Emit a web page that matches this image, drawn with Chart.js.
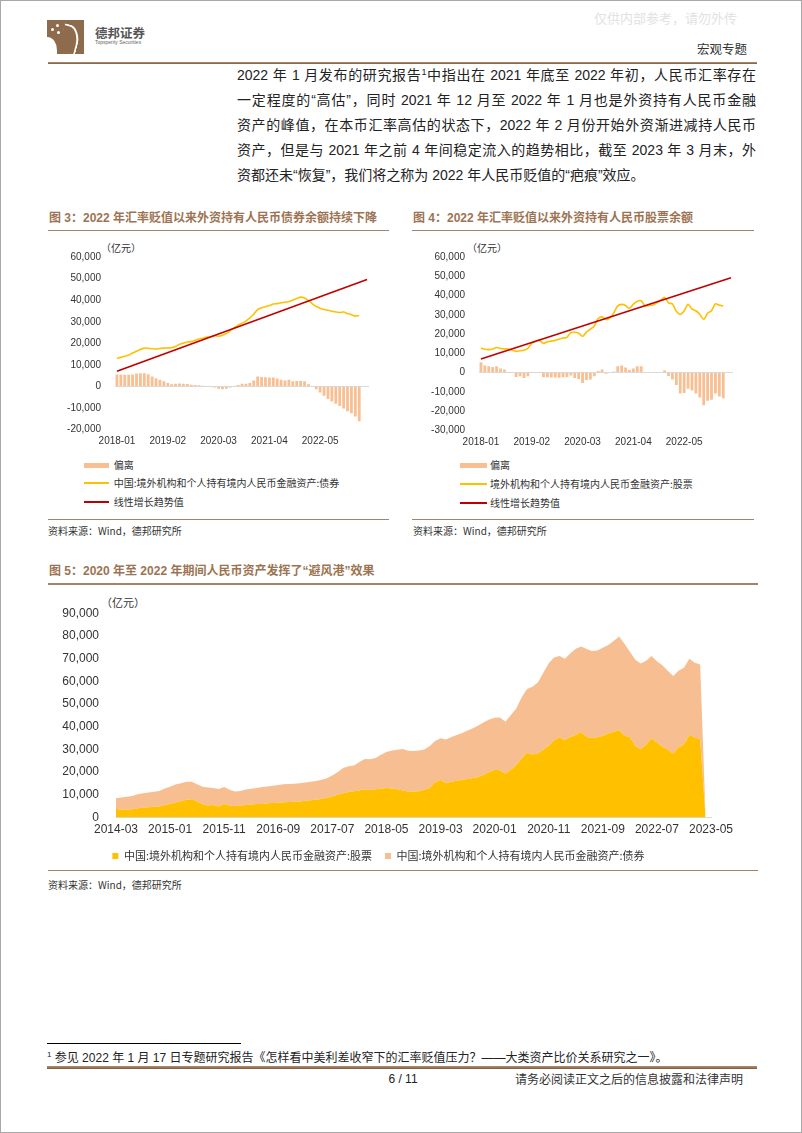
<!DOCTYPE html>
<html lang="zh-CN">
<head>
<meta charset="utf-8">
<title>宏观专题 6 / 11</title>
<script src="https://cdn.jsdelivr.net/npm/chart.js@4.4.1/dist/chart.umd.min.js"></script>
<style>
  html, body { margin: 0; padding: 0; background: #fff; }
  #page {
    position: relative; width: 802px; height: 1133px; box-sizing: border-box;
    border: 1px solid #a8a8a8; overflow: hidden; background: #fff; color: #222;
    font-family: "Liberation Sans", "Noto Sans CJK SC", sans-serif;
  }
  .t { position: absolute; white-space: nowrap; line-height: 20px; }
  .cjk { font-family: "Noto Sans CJK SC", sans-serif; }
  .para { position: absolute; left: 236px; width: 519px; font-size: 14px; line-height: 20px;
          text-align: justify; text-align-last: justify; white-space: nowrap; }
  .para.last { text-align-last: left; }
  .para sup { font-size: 9px; line-height: 0; vertical-align: 5px; }
  .ftitle { font-size: 12px; font-weight: bold; color: #9c7453; }
  .rule { position: absolute; height: 1.5px; background: #a3836a; }
  .src { font-size: 10px; color: #333; }
  .unit { font-size: 10px; color: #333; }
  .lg { font-size: 10px; color: #333; }
  .sw { position: absolute; }
  canvas { position: absolute; }
  #logo { position: absolute; left: 46px; top: 19px; width: 37px; height: 34px; background: #8e6b4d; overflow: hidden; }
  #logo .cut { position: absolute; left: -6px; top: 17px; width: 16px; height: 22px; background: #fff; border-radius: 0 60% 0 0; }
  #logo .dog { position: absolute; left: 14px; top: 5px; width: 16px; height: 26px; border: 2.5px solid #fff;
               border-left: none; border-bottom: none; border-radius: 0 70% 0 0; transform: rotate(15deg); }
  #logo .dot { position: absolute; width: 3px; height: 3px; background: #fff; border-radius: 50%; }
</style>
</head>
<body>
<div id="page">

  <!-- header -->
  <div id="logo">
    <div class="cut"></div><div class="dog"></div>
    <div class="dot" style="left:4px;top:8px"></div>
    <div class="dot" style="left:9px;top:4px"></div>
    <div class="dot" style="left:10px;top:11px"></div>
  </div>
  <div class="t cjk" style="left:94px;top:22px;font-size:12.5px;font-weight:bold;color:#555;">德邦证券</div>
  <div class="t" style="left:94px;top:38px;font-size:5px;line-height:6px;color:#666;">Topsperity Securities</div>
  <div class="t cjk" style="left:593px;top:7px;font-size:13px;color:#e2e2e2;">仅供内部参考，请勿外传</div>
  <div class="t cjk" style="left:696px;top:38px;font-size:12.5px;color:#333;">宏观专题</div>
  <div class="rule" style="left:47px;top:60.5px;width:709px;height:2.5px;background:linear-gradient(#b39276,#7d5b40);"></div>

  <!-- body text -->
  <div class="para" style="top:64px;">2022 年 1 月发布的研究报告<sup>1</sup>中指出在 2021 年底至 2022 年初，人民币汇率存在</div>
  <div class="para" style="top:89px;">一定程度的“高估”，同时 2021 年 12 月至 2022 年 1 月也是外资持有人民币金融</div>
  <div class="para" style="top:114px;">资产的峰值，在本币汇率高估的状态下，2022 年 2 月份开始外资渐进减持人民币</div>
  <div class="para" style="top:139px;">资产，但是与 2021 年之前 4 年间稳定流入的趋势相比，截至 2023 年 3 月末，外</div>
  <div class="para last" style="top:164px;">资都还未“恢复”，我们将之称为 2022 年人民币贬值的“疤痕”效应。</div>

  <!-- figure 3 -->
  <div class="t ftitle" style="left:48px;top:207px;">图 3：2022 年汇率贬值以来外资持有人民币债券余额持续下降</div>
  <div class="rule" style="left:47px;top:228.5px;width:341px;"></div>
  <div class="t unit cjk" style="left:100px;top:237px;">（亿元）</div>
  <canvas id="fig3" width="345" height="213" style="left:45px;top:236px;"></canvas>
  <div class="sw" style="left:83px;top:461.5px;width:25px;height:5px;background:#f8bf92;"></div>
  <div class="t lg cjk" style="left:112.7px;top:454px;">偏离</div>
  <div class="sw" style="left:83px;top:481.2px;width:25px;height:1.6px;background:#ffc000;"></div>
  <div class="t lg cjk" style="left:112.7px;top:472px;">中国:境外机构和个人持有境内人民币金融资产:债券</div>
  <div class="sw" style="left:83px;top:500.2px;width:25px;height:2px;background:#c00000;"></div>
  <div class="t lg cjk" style="left:112.7px;top:491px;">线性增长趋势值</div>
  <div class="rule" style="left:47px;top:517.5px;width:341px;"></div>
  <div class="t src cjk" style="left:47px;top:520px;">资料来源：Wind，德邦研究所</div>

  <!-- figure 4 -->
  <div class="t ftitle" style="left:412px;top:207px;">图 4：2022 年汇率贬值以来外资持有人民币股票余额</div>
  <div class="rule" style="left:411px;top:228.5px;width:342px;"></div>
  <div class="t unit cjk" style="left:466px;top:237px;">（亿元）</div>
  <canvas id="fig4" width="345" height="214" style="left:410px;top:236px;"></canvas>
  <div class="sw" style="left:459px;top:461.5px;width:27px;height:5px;background:#f8bf92;"></div>
  <div class="t lg cjk" style="left:489px;top:454px;">偏离</div>
  <div class="sw" style="left:459px;top:482.2px;width:27px;height:1.6px;background:#ffc000;"></div>
  <div class="t lg cjk" style="left:489px;top:473px;">境外机构和个人持有境内人民币金融资产:股票</div>
  <div class="sw" style="left:459px;top:501.2px;width:27px;height:2px;background:#c00000;"></div>
  <div class="t lg cjk" style="left:489px;top:492px;">线性增长趋势值</div>
  <div class="rule" style="left:411px;top:517.5px;width:342px;"></div>
  <div class="t src cjk" style="left:412px;top:520px;">资料来源：Wind，德邦研究所</div>

  <!-- figure 5 -->
  <div class="t ftitle" style="left:48px;top:560px;">图 5：2020 年至 2022 年期间人民币资产发挥了“避风港”效果</div>
  <div class="rule" style="left:47px;top:582px;width:710px;"></div>
  <div class="t unit cjk" style="left:100px;top:591px;font-size:11px;">（亿元）</div>
  <canvas id="fig5" width="712" height="283" style="left:45px;top:588px;"></canvas>
  <div class="rule" style="left:47px;top:868.5px;width:710px;"></div>
  <div class="t src cjk" style="left:47px;top:874px;">资料来源：Wind，德邦研究所</div>

  <!-- footer -->
  <div class="rule" style="left:46px;top:1042px;width:194px;height:1px;background:#000;"></div>
  <div class="t" style="left:46px;top:1047px;font-size:12px;"><sup style="font-size:8px;line-height:0;">1</sup> 参见 2022 年 1 月 17 日专题研究报告《怎样看中美利差收窄下的汇率贬值压力？——大类资产比价关系研究之一》。</div>
  <div class="rule" style="left:46px;top:1064.5px;width:710px;height:3px;background:linear-gradient(#b39276,#7d5b40);"></div>
  <div class="t" style="left:372px;width:60px;text-align:center;top:1068px;font-size:12px;">6 / 11</div>
  <div class="t cjk" style="left:514px;top:1068px;font-size:12px;color:#333;">请务必阅读正文之后的信息披露和法律声明</div>
</div>

<script>
// Month labels for the category axes
function monthRange(start, end) {
  const out = [];
  let [y, m] = start.split('-').map(Number);
  const [ey, em] = end.split('-').map(Number);
  while (y < ey || (y === ey && m <= em)) {
    out.push(y + '-' + String(m).padStart(2, '0'));
    m++;
    if (m > 12) { m = 1; y++; }
  }
  return out;
}

// Figure 3 / 4 data (2018-01 .. 2023-03, axis runs to 2023-05)
const trendMonths = monthRange('2018-01', '2023-05');
const trendTicks = ['2018-01', '2019-02', '2020-03', '2021-04', '2022-05'];

const bondHoldings = [
  13100, 13500, 14000, 14600, 15500, 16300, 17200, 17800, 17700, 17500,
  17400, 17600, 17800, 17900, 18000, 18500, 19600, 20100, 20600, 20800,
  21400, 22000, 22400, 22900, 23000, 23500, 23300, 23700, 24600, 25900,
  27200, 28400, 29300, 30300, 31800, 33500, 35600, 36500, 37000, 37500,
  38200, 38400, 38800, 39000, 39400, 40100, 40800, 41400, 41000, 39800,
  38300, 37100, 36300, 35700, 35300, 34900, 34500, 34300, 34500, 33800,
  33300, 32600, 32900
];
const bondDeviation = [
  5600, 5500, 5400, 5500, 5600, 6000, 6200, 6200, 5700, 4600,
  3800, 3100, 2400, 1600, 1000, 1300, 1400, 1300, 1200, 800,
  700, 600, 400, 100, -100, -500, -1000, -1300, -1000, -500,
  200, 700, 1300, 1300, 1600, 2800, 4600, 4400, 4300, 4200,
  4200, 3700, 3100, 2800, 3100, 2500, 2600, 2700, 2500, 1000,
  0, -1300, -2800, -4300, -5800, -6900, -8000, -9000, -10200, -11400,
  -12400, -13900, -16100
];
const bondTrend = [{ x: '2018-01', y: 7100 }, { x: '2023-05', y: 49600 }];

const stockHoldings = [
  12700, 12100, 11900, 12200, 13000, 12500, 12300, 12200, 11500, 11000,
  11300, 11600, 12600, 15100, 16300, 16700, 15100, 16000, 16300, 16700,
  17300, 17900, 18300, 20700, 20900, 20400, 18800, 21000, 22500, 24200,
  28100, 28900, 27500, 28400, 31000, 34600, 35400, 34800, 33400, 35500,
  37000, 37300, 34600, 34900, 35100, 36200, 37600, 39000, 36200, 35600,
  31800, 30200, 32000, 35400, 33000, 32100, 30300, 27600, 30800, 32100,
  35700, 35000, 34600
];
const stockDeviation = [
  5400, 3700, 3200, 2900, 3200, 2100, 1600, 100, -200, -2300,
  -1900, -2800, -1900, -300, 300, -200, -2500, -2400, -2600, -2600,
  -2700, -2500, -2300, -1600, -2800, -3300, -5500, -3900, -3600, -1900,
  800, 1600, -600, 0, 600, 3200, 3700, 2600, 1300, 2100,
  3200, 3200, 0, -300, -300, 0, 0, 1000, -1800, -3600,
  -6500, -10900, -10600, -8400, -9300, -10900, -13000, -17000, -14600, -14100,
  -10900, -12500, -13300
];
const stockTrend = [{ x: '2018-01', y: 7000 }, { x: '2023-05', y: 49200 }];

// Figure 5 data (2014-03 .. 2023-03, then the empty month)
const havenMonths = monthRange('2014-03', '2023-05');
const havenTicks = ['2014-03', '2015-01', '2015-11', '2016-09', '2017-07', '2018-05',
  '2019-03', '2020-01', '2020-11', '2021-09', '2022-07', '2023-05'];

const stockAssets = [
  3700, 3500, 3400, 3600, 4100, 4300, 4500, 4700, 4900, 5500,
  6000, 6600, 7200, 7800, 8000, 7000, 5800, 5300, 5500, 4900,
  6100, 5200, 5100, 5300, 5500, 5700, 5900, 6000, 6300, 6400,
  6500, 6700, 6800, 6900, 7100, 7400, 7600, 7800, 8100, 8700,
  9300, 10000, 10700, 11200, 11600, 12000, 12300, 12100, 12400, 12700,
  13000, 12800, 12500, 11900, 11400, 11500, 11600, 12200, 13000, 15500,
  16500, 15100, 15800, 16200, 16600, 17000, 17400, 17800, 18800, 20000,
  21000, 20800, 19300, 21000, 23000, 26000, 28500, 27800, 28200, 29800,
  31500, 34000, 35300, 34000, 35500, 36500, 37700, 35500, 35000, 35300,
  36000, 37000, 37800, 38600, 36000, 35300, 31500, 30100, 32000, 34900,
  33000, 31200, 30000, 28100, 31000, 32200, 36300, 35200, 34500, 0
];
const bondAssets = [
  4800, 5300, 5700, 5900, 6100, 6400, 6500, 6600, 6800, 7300,
  7600, 7900, 7900, 8000, 7700, 7600, 7800, 7900, 7500, 7700,
  7300, 7000, 6400, 6400, 6800, 7000, 7100, 7400, 7400, 7600,
  7800, 7900, 8000, 8000, 8000, 8000, 8200, 8300, 8500, 8600,
  9200, 10000, 11100, 11400, 11300, 12500, 13500, 13600, 13800, 14900,
  15900, 16700, 17400, 18300, 18000, 17800, 17900, 17800, 18500, 18200,
  18400, 19300, 19700, 20100, 20600, 21300, 21900, 22700, 23200, 23200,
  22900, 23300, 22900, 24200, 25000, 27000, 28100, 29800, 31300, 34000,
  36500, 36500, 35900, 35900, 36900, 37800, 37600, 38700, 38300, 38300,
  38800, 39000, 40000, 41100, 40500, 37700, 38000, 37700, 37000, 36300,
  35800, 35900, 34700, 34200, 33700, 33800, 33600, 33000, 32900, 0
];

(function() {
  'use strict';

  const colors = {
    bar: '#f8bf92',
    line: '#ffc000',
    trend: '#c00000',
    zero: '#d9d9d9',
    text: '#333333',
    stock: '#ffc000',
    bond: '#f6be91'
  };
  const latin = '"Liberation Sans", "Noto Sans CJK SC", sans-serif';

  Chart.defaults.font.family = latin;
  Chart.defaults.color = colors.text;

  const fmt = v => Number(v).toLocaleString('en-US');

  // Deviation bars + holdings line + linear trend
  function initTrendChart(id, holdings, deviation, trend, yMin, axisW, pad) {
    const canvas = document.getElementById(id);
    return new Chart(canvas.getContext('2d'), {
      type: 'bar',
      data: {
        labels: trendMonths,
        datasets: [{
          type: 'line',
          label: 'trend',
          data: trend,
          borderColor: colors.trend,
          borderWidth: 1.6,
          pointRadius: 0,
          order: 1
        }, {
          type: 'line',
          label: 'holdings',
          data: holdings,
          borderColor: colors.line,
          borderWidth: 1.6,
          pointRadius: 0,
          tension: 0.3,
          order: 2
        }, {
          label: '偏离',
          data: deviation,
          backgroundColor: colors.bar,
          barPercentage: 0.72,
          categoryPercentage: 1,
          order: 3
        }]
      },
      options: {
        responsive: false,
        animation: false,
        events: [],
        layout: { padding: pad },
        plugins: { legend: { display: false }, tooltip: { enabled: false } },
        scales: {
          x: {
            grid: { display: false, drawTicks: false },
            border: { display: false },
            ticks: {
              autoSkip: false,
              maxRotation: 0,
              padding: 6,
              font: { size: 10 },
              callback: function(value) {
                const lab = this.getLabelForValue(value);
                return trendTicks.includes(lab) ? lab : null;
              }
            },
            afterFit: s => { s.height = 20; }
          },
          y: {
            min: yMin,
            max: 60000,
            ticks: { stepSize: 10000, padding: 14, font: { size: 10 }, callback: fmt },
            grid: {
              drawTicks: false,
              color: c => (c.tick && c.tick.value === 0) ? colors.zero : 'rgba(0,0,0,0)'
            },
            border: { display: false },
            afterFit: s => { s.width = axisW; }
          }
        }
      }
    });
  }

  // Stacked areas: stock and bond holdings
  function initHavenChart() {
    const canvas = document.getElementById('fig5');
    return new Chart(canvas.getContext('2d'), {
      type: 'line',
      data: {
        labels: havenMonths,
        datasets: [{
          label: '中国:境外机构和个人持有境内人民币金融资产:股票',
          data: stockAssets,
          backgroundColor: colors.stock,
          borderColor: colors.stock,
          borderWidth: 0,
          pointRadius: 0,
          fill: 'origin'
        }, {
          label: '中国:境外机构和个人持有境内人民币金融资产:债券',
          data: bondAssets,
          backgroundColor: colors.bond,
          borderColor: colors.bond,
          borderWidth: 0,
          pointRadius: 0,
          fill: '-1'
        }]
      },
      options: {
        responsive: false,
        animation: false,
        events: [],
        layout: { padding: { top: 9.7, right: 47, bottom: 0.5, left: 0 } },
        plugins: {
          tooltip: { enabled: false },
          legend: {
            position: 'bottom',
            labels: {
              boxWidth: 6,
              boxHeight: 6,
              padding: 13,
              color: colors.text,
              font: { family: '"Noto Sans CJK SC", sans-serif', size: 11 }
            }
          }
        },
        scales: {
          x: {
            grid: { display: false, drawTicks: false },
            border: { display: true, color: colors.zero },
            ticks: {
              autoSkip: false,
              maxRotation: 0,
              padding: 5,
              font: { size: 12 },
              callback: function(value) {
                const lab = this.getLabelForValue(value);
                return havenTicks.includes(lab) ? lab : null;
              }
            },
            afterFit: s => { s.height = 20; }
          },
          y: {
            stacked: true,
            min: 0,
            max: 90000,
            ticks: { stepSize: 10000, padding: 17, font: { size: 12 }, callback: fmt },
            grid: { display: false, drawTicks: false },
            border: { display: false },
            afterFit: s => { s.width = 70; }
          }
        }
      }
    });
  }

  function initCharts() {
    if (typeof Chart === 'undefined') {
      console.warn('Chart.js not loaded');
      return;
    }
    initTrendChart('fig3', bondHoldings, bondDeviation, bondTrend, -20000, 69,
      { top: 11.3, right: 22, bottom: 0.3, left: 0 });
    initTrendChart('fig4', stockHoldings, stockDeviation, stockTrend, -30000, 68,
      { top: 9.7, right: 23, bottom: 0.7, left: 0 });
    initHavenChart();
  }

  if (document.readyState === 'loading') {
    document.addEventListener('DOMContentLoaded', initCharts);
  } else {
    initCharts();
  }
})();
</script>
</body>
</html>
